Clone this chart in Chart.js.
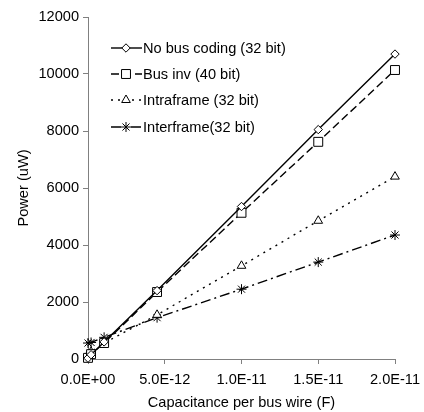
<html><head><meta charset="utf-8">
<script src="https://cdn.jsdelivr.net/npm/chart.js@4.4.0/dist/chart.umd.min.js"></script>
<style>
 body { margin:0; background:#fff; }
 #wrap { width:424px; height:412px; }
</style>
</head>
<body>
<div id="wrap"><canvas id="myChart" width="424" height="412"></canvas></div>
<script>
var capacitance = [0, 2e-13, 1.05e-12, 4.5e-12, 1e-11, 1.5e-11, 2e-11];
var noBusCoding = [30, 150, 600, 2400, 5350, 8050, 10700];
var busInv      = [40, 170, 560, 2350, 5130, 7620, 10140];
var intraframe  = [150, 250, 560, 1550, 3270, 4850, 6400];
var interframe  = [560, 580, 760, 1450, 2450, 3400, 4350];
var seriesNames = ['No bus coding (32 bit)', 'Bus inv (40 bit)', 'Intraframe (32 bit)', 'Interframe(32 bit)'];
var yTicks = [0, 2000, 4000, 6000, 8000, 10000, 12000];
var xTicks = [0, 5e-12, 1e-11, 1.5e-11, 2e-11];

var FONT = 'Liberation Sans, Arial, sans-serif';
var FS = 14.6;
var AXIS = '#808080';

function pts(ys) {
  return ys.map(function (v, i) { return { x: capacitance[i], y: v }; });
}
function sci(v) {
  if (Math.abs(v) < 1e-20) return '0.0E+00';
  var e = Math.floor(Math.log10(Math.abs(v)) + 1e-9);
  var m = v / Math.pow(10, e);
  var s = e < 0 ? '-' : '+';
  var ae = Math.abs(e);
  return m.toFixed(1) + 'E' + s + (ae < 10 ? '0' + ae : ae);
}

var styles = [
  { dash: [], point: 'rectRot', r: 4.2 },
  { dash: [8, 4], point: 'rect', r: 6.3 },
  { dash: [2, 5], point: 'triangle', r: 5 },
  { dash: [10, 4, 2, 4], point: 'star', r: 5 }
];
var values = [noBusCoding, busInv, intraframe, interframe];

var datasets = values.map(function (vals, i) {
  return {
    label: seriesNames[i],
    data: pts(vals),
    borderColor: '#000',
    backgroundColor: '#fff',
    borderWidth: 1.4,
    borderDash: styles[i].dash,
    pointStyle: styles[i].point,
    pointRadius: styles[i].r,
    pointBorderWidth: 1,
    pointBorderColor: '#000',
    pointBackgroundColor: '#fff',
    clip: false,
    tension: 0
  };
});

// legend drawn inside the plot, upper left
var insideLegend = {
  id: 'insideLegend',
  afterDraw: function (chart) {
    var ctx = chart.ctx;
    var rows = [48, 74, 100, 127];
    ctx.save();
    chart.data.datasets.forEach(function (ds, i) {
      var y = rows[i];
      ctx.strokeStyle = '#000';
      ctx.lineWidth = 1.4;
      ctx.setLineDash(ds.borderDash);
      ctx.beginPath();
      ctx.moveTo(111, y);
      ctx.lineTo(142, y);
      ctx.stroke();
      ctx.setLineDash([]);
      ctx.fillStyle = '#fff';
      ctx.strokeStyle = '#000';
      ctx.lineWidth = 1;
      Chart.helpers.drawPoint(ctx, {
        pointStyle: ds.pointStyle, radius: ds.pointRadius, borderWidth: 1
      }, 126, y);
      ctx.fillStyle = '#000';
      ctx.font = FS + 'px ' + FONT;
      ctx.textBaseline = 'middle';
      ctx.textAlign = 'left';
      ctx.fillText(ds.label, 143, y + 1);
    });
    ctx.restore();
  }
};

var ctx = document.getElementById('myChart');
var myChart = new Chart(ctx, {
  type: 'line',
  data: { datasets: datasets },
  plugins: [insideLegend],
  options: {
    responsive: false,
    animation: false,
    devicePixelRatio: 1,
    layout: { padding: { left: 0, right: 29, top: 17, bottom: 0 } },
    plugins: { legend: { display: false }, tooltip: { enabled: false } },
    scales: {
      x: {
        type: 'linear',
        min: 0, max: 2e-11,
        afterBuildTicks: function (s) { s.ticks = xTicks.map(function (v) { return { value: v }; }); },
        afterFit: function (s) { s.height = 53; s.paddingLeft = 0; s.paddingRight = 0; },
        grid: { drawOnChartArea: false, drawTicks: true, tickLength: 5, color: AXIS },
        border: { color: AXIS, width: 1 },
        ticks: { color: '#000', font: { family: FONT, size: FS }, padding: 7, maxRotation: 0,
                 callback: function (v) { return sci(v); } },
        title: { display: true, text: 'Capacitance per bus wire (F)', color: '#000',
                 font: { family: FONT, size: FS }, padding: { top: 0, bottom: 0 } }
      },
      y: {
        min: 0, max: 12000,
        afterBuildTicks: function (s) { s.ticks = yTicks.map(function (v) { return { value: v }; }); },
        afterFit: function (s) { s.width = 88; s.paddingTop = 0; s.paddingBottom = 0; },
        grid: { drawOnChartArea: false, drawTicks: true, tickLength: 5, color: AXIS },
        border: { color: AXIS, width: 1 },
        ticks: { color: '#000', font: { family: FONT, size: FS }, padding: 4,
                 callback: function (v) { return String(v); } },
        title: { display: true, text: 'Power (uW)', color: '#000',
                 font: { family: FONT, size: FS }, padding: { top: 15, bottom: 0 } }
      }
    }
  }
});
</script>
</body></html>
